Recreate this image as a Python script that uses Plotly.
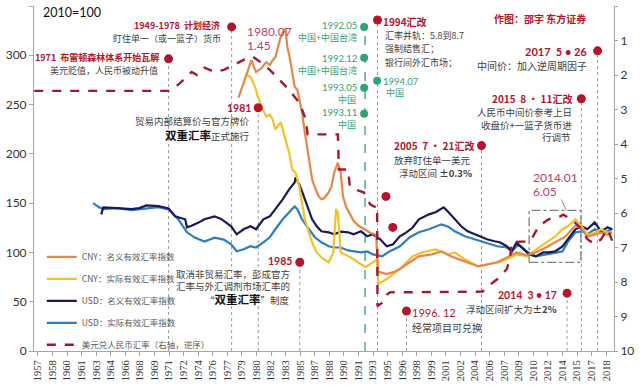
import plotly.graph_objects as go

# ---------------- data ----------------
tick_labels = ["1957","1958","1960","1961","1963","1964","1966","1968","1969","1971",
               "1972","1974","1976","1977","1979","1980","1982","1983","1985","1987",
               "1988","1990","1991","1993","1995","1996","1998","1999","2001","2002",
               "2004","2006","2007","2009","2010","2012","2014","2015","2017","2018"]
tick_vals = [1957 + 19 * k / 12 for k in range(len(tick_labels))]

cny_neer = [(1978.8, 257), (1979.35, 272), (1979.9, 288), (1980.2, 295), (1980.7, 283),
            (1981.3, 287), (1981.8, 293), (1982.2, 290), (1982.5, 295), (1982.8, 298),
            (1983.3, 316), (1983.6, 323), (1983.9, 327), (1984.1, 309), (1984.4, 296),
            (1984.65, 282), (1984.9, 268), (1985.2, 265), (1985.4, 255), (1985.7, 242),
            (1986.0, 222), (1986.45, 194), (1986.8, 174), (1987.1, 166), (1987.5, 157),
            (1987.8, 154), (1988.1, 155), (1988.6, 161), (1988.9, 167), (1989.2, 181),
            (1989.6, 191), (1989.9, 181), (1990.15, 157), (1990.5, 146), (1990.8, 141),
            (1991.3, 132), (1991.85, 127), (1992.4, 124), (1993.1, 120), (1993.75, 118),
            (1993.95, 80), (1994.2, 80), (1994.9, 78), (1995.6, 80), (1996.3, 83),
            (1997.4, 90), (1998.4, 96), (1999.8, 98), (2000.85, 101), (2001.9, 96),
            (2003.4, 91), (2004.8, 86), (2005.5, 87), (2006.9, 90), (2007.95, 95),
            (2009.0, 100), (2010.1, 97), (2011.1, 100), (2012.2, 105), (2013.2, 110),
            (2014.3, 116), (2015.4, 127), (2016.1, 124), (2016.7, 116), (2017.5, 118),
            (2018.2, 120), (2018.9, 118), (2019.4, 120)]

cny_reer = [(1979.7, 280), (1980.1, 278), (1980.6, 268), (1980.9, 258), (1981.3, 248),
            (1981.8, 238), (1982.2, 240), (1982.5, 235), (1982.8, 225), (1983.4, 232),
            (1983.8, 218), (1984.3, 201), (1984.65, 184), (1985.0, 181), (1985.4, 167),
            (1985.7, 149), (1986.0, 134), (1986.45, 120), (1986.8, 110), (1987.3, 100),
            (1987.8, 95), (1988.6, 90), (1989.1, 100), (1989.4, 144), (1989.6, 140),
            (1989.9, 100), (1990.3, 98), (1991.0, 95), (1992.1, 88), (1992.6, 85),
            (1993.4, 90), (1993.9, 93), (1994.0, 68), (1994.9, 73), (1996.3, 83),
            (1997.7, 96), (1998.7, 100), (2000.2, 103), (2001.6, 98), (2002.3, 100),
            (2003.4, 93), (2004.8, 86), (2005.8, 88), (2007.2, 90), (2007.95, 93),
            (2009.0, 98), (2010.1, 96), (2011.1, 103), (2012.2, 110), (2013.2, 116),
            (2014.0, 123.5), (2014.6, 126.5), (2015.4, 133.6), (2016.1, 126.5),
            (2016.7, 118), (2017.5, 120), (2018.2, 123.5), (2018.9, 120), (2019.4, 121)]

usd_neer = [(1963.88, 138.6), (1964.1, 145.7), (1965.6, 145), (1967.2, 144), (1968.0, 145),
            (1968.8, 147.7), (1970.1, 147), (1971.2, 144.7), (1971.9, 136.6), (1973.0, 133.6),
            (1973.2, 125.5), (1973.7, 127), (1974.4, 130), (1975.1, 133.6), (1976.2, 136.6),
            (1976.9, 134), (1978.0, 126.5), (1978.6, 118.4), (1979.35, 123.5), (1980.1, 126.5),
            (1980.7, 123.5), (1981.5, 133.6), (1982.2, 136.6), (1982.8, 143.7), (1983.6, 153.8),
            (1984.3, 163.9), (1984.9, 171), (1985.0, 176), (1985.4, 169), (1985.7, 162),
            (1986.0, 153.8), (1986.45, 141.7), (1986.8, 133.6), (1987.3, 126.5), (1987.8, 121.4),
            (1988.6, 120.4), (1989.2, 118.4), (1989.9, 121), (1990.7, 120.4), (1991.3, 118.4),
            (1992.1, 121.4), (1992.8, 116.4), (1993.4, 118.4), (1994.2, 113.3), (1994.9, 106.3),
            (1995.6, 108.3), (1996.3, 116), (1997.0, 120), (1997.7, 125), (1998.4, 133.6),
            (1999.5, 138.6), (2000.2, 140.7), (2001.1, 145.7), (2001.6, 141), (2002.3, 133.6),
            (2003.0, 126.5), (2003.7, 121.4), (2004.45, 118.4), (2005.1, 115.4), (2005.8, 113.3),
            (2006.6, 111.3), (2007.2, 110.3), (2007.95, 106.3), (2008.5, 101.2), (2009.0, 110),
            (2009.75, 103), (2010.4, 98), (2011.1, 96), (2011.9, 100), (2012.5, 100),
            (2013.2, 101), (2014.0, 106), (2014.6, 113), (2015.4, 123.5), (2016.1, 126.5),
            (2016.7, 123.5), (2017.5, 130.5), (2018.2, 121.4), (2018.9, 125.5), (2019.4, 123.5)]

usd_reer = [(1963.0, 150), (1963.6, 146), (1964.1, 144), (1965.6, 145), (1967.2, 143),
            (1968.8, 145), (1970.1, 146), (1971.2, 143.7), (1972.25, 133.6), (1973.2, 120.4),
            (1974.05, 115), (1975.1, 111), (1976.2, 115), (1977.2, 113), (1978.0, 108.3),
            (1978.6, 101.2), (1979.35, 103.2), (1980.1, 106.3), (1980.7, 105), (1981.5, 110.3),
            (1982.2, 115.4), (1982.8, 123.5), (1983.6, 133.6), (1984.3, 140.7), (1984.9, 146.7),
            (1985.2, 143.7), (1985.7, 133.6), (1986.45, 123.5), (1987.1, 115.4), (1987.8, 110.3),
            (1988.6, 106.3), (1989.2, 105), (1989.9, 105), (1990.7, 102), (1991.3, 101),
            (1992.1, 100), (1992.8, 101), (1993.4, 98), (1994.4, 96), (1995.2, 101),
            (1996.3, 106), (1997.4, 115.4), (1998.4, 120.4), (1999.5, 123.5), (2000.85, 128.5),
            (2001.6, 126), (2002.3, 121.4), (2003.4, 116.4), (2004.45, 113.3), (2005.5, 110.3),
            (2006.15, 108.3), (2006.9, 106.3), (2007.95, 105), (2008.5, 101), (2009.2, 108),
            (2010.1, 101), (2011.1, 96), (2012.2, 98), (2013.2, 100), (2014.0, 101),
            (2014.6, 111), (2015.4, 120.4), (2016.1, 121.4), (2016.7, 118.4), (2017.5, 123.5),
            (2018.2, 120.4), (2018.9, 121.4), (2019.4, 124)]

usdcny = [(1956.6, 2.46), (1971.2, 2.46), (1971.7, 2.37), (1972.25, 2.28), (1973.2, 2.05),
          (1973.7, 1.91), (1974.3, 2.0), (1975.1, 1.79), (1976.2, 1.91), (1977.2, 1.85),
          (1978.3, 1.71), (1979.35, 1.56), (1980.3, 1.46), (1981.15, 1.62), (1982.2, 1.85),
          (1983.3, 2.14), (1984.3, 2.43), (1985.4, 2.80), (1986.0, 3.21), (1986.2, 3.5),
          (1986.3, 3.72), (1989.6, 3.72), (1989.7, 4.74), (1990.7, 4.74), (1990.9, 5.23),
          (1991.5, 5.32), (1992.4, 5.40), (1992.7, 5.52), (1993.1, 5.75), (1993.75, 5.84),
          (1993.86, 5.8), (1993.9, 8.7), (1994.4, 8.6), (1994.9, 8.37), (1995.24, 8.3),
          (2005.3, 8.28), (2005.8, 8.15), (2006.9, 7.92), (2007.95, 7.63), (2008.3, 7.3),
          (2008.5, 6.85), (2009.5, 6.83), (2010.4, 6.83), (2010.8, 6.68), (2011.4, 6.39),
          (2012.5, 6.18), (2013.6, 6.12), (2014.1, 6.05), (2015.05, 6.2), (2016.1, 6.47),
          (2016.7, 6.76), (2017.5, 6.9), (2018.2, 6.76), (2018.9, 6.47), (2019.4, 6.8)]

# policy events: year, marker height (left axis)
event_years = [1971.2, 1978.05, 1980.94, 1985.46, 1993.9, 1997.05, 2005.2, 2014.5, 2016.05, 2017.82]
event_level = [296.4, 328.8, 246.8, 90.0, 335.8, 40.5, 208.4, 58.7, 255.9, 304.5]
extra_dot_years = [1994.82, 1995.56]
extra_dot_level = [156.8, 125.4]
taiwan_years = [1992.45, 1992.45, 1992.45, 1992.45, 1993.86]
taiwan_level = [328.8, 297.4, 267.1, 240.8, 274.1]
green_line_year = 1992.55
box_years = [2010.38, 2016.0]
box_level = [90, 142.6]

# ---------------- styling ----------------
RED = "#B3152D"
DARK = "#404040"
GREEN = "#33A274"
PINK = "#B2456A"
CJK = "Noto Sans CJK SC"
NUM = "Lato"

L, R, T, B, W, H = 25, 20, 6, 35, 640, 387
PW, PH = W - L - R, H - T - B


def pp(x, y):
    return (x - L) / PW, (T + PH - y) / PH


fig = go.Figure()

series = [
    (usd_reer, "USD：实际有效汇率指数", "#2F7DBA", 4, "solid", "y"),
    (usd_neer, "USD：名义有效汇率指数", "#18195A", 3, "solid", "y"),
    (cny_reer, "CNY：实际有效汇率指数", "#F3C22B", 2, "solid", "y"),
    (cny_neer, "CNY：名义有效汇率指数", "#E5874A", 1, "solid", "y"),
    (usdcny, "美元兑人民币汇率（右轴，逆序）", "#A2192E", 5, "dash", "y2"),
]
for data, name, color, rank, dash, yax in series:
    fig.add_trace(go.Scatter(
        x=[p[0] for p in data], y=[p[1] for p in data], name=name, mode="lines",
        line=dict(color=color, width=2.2 if dash == "solid" else 2.4, dash=dash),
        legendrank=rank, legendgroup=name, yaxis=yax))

fig.add_trace(go.Scatter(x=event_years + extra_dot_years, y=event_level + extra_dot_level,
                         mode="markers", marker=dict(color=RED, size=9), showlegend=False))
fig.add_trace(go.Scatter(x=taiwan_years, y=taiwan_level, mode="markers",
                         marker=dict(color=GREEN, size=8), showlegend=False))

shapes = []
for xv, yv in zip(event_years, event_level):
    shapes.append(dict(type="line", xref="x", yref="y", x0=xv, x1=xv, y0=0, y1=yv,
                       line=dict(color="#9A9A9A", width=1, dash="dot"), layer="below"))
shapes.append(dict(type="line", xref="x", yref="y", x0=green_line_year, x1=green_line_year,
                   y0=0, y1=taiwan_level[0], line=dict(color=GREEN, width=1.3, dash="dash"),
                   layer="below"))
shapes.append(dict(type="rect", xref="x", yref="y", x0=box_years[0], x1=box_years[1],
                   y0=box_level[0], y1=box_level[1],
                   line=dict(color="#7F7F7F", width=1.3, dash="dashdot")))
c0 = pp(566, 200)
c1 = pp(571, 211)
shapes.append(dict(type="line", xref="paper", yref="paper", x0=c0[0], y0=c0[1], x1=c1[0], y1=c1[1],
                   line=dict(color="#8A8A8A", width=1)))

BIG = "<span style='font-size:11.5px;color:#111'><b>双重汇率</b></span>"
texts = [
    ("2010=100", 32, 13, "left", 12.5, "#111111", False, NUM),
    ("1971  布雷顿森林体系开始瓦解", 155, 58, "right", 9, RED, True, CJK),
    ("美元贬值，人民币被动升值", 154, 71, "right", 9, DARK, False, CJK),
    ("1949-1978  计划经济", 218, 26, "right", 9, RED, True, CJK),
    ("盯住单一（或一篮子）货币", 219, 38.5, "right", 9, DARK, False, CJK),
    ("1980.07", 241, 32, "left", 12, PINK, False, NUM),
    ("1.45", 241, 46, "left", 12, PINK, False, NUM),
    ("1981", 250, 108, "right", 10.5, RED, True, NUM),
    ("贸易内部结算价与官方牌价", 249, 121, "right", 9.5, DARK, False, CJK),
    (BIG + "正式施行", 249, 135, "right", 9.5, DARK, False, CJK),
    ("1985", 292, 262, "right", 10.5, RED, True, NUM),
    ("取消非贸易汇率，彭成官方", 290, 275, "right", 9.5, DARK, False, CJK),
    ("汇率与外汇调剂市场汇率的", 290, 287, "right", 9.5, DARK, False, CJK),
    ("“" + BIG + "”制度", 290, 300, "right", 9.5, DARK, False, CJK),
    ("1992.05", 358, 26, "right", 9.5, GREEN, False, NUM),
    ("中国+中国台湾", 358, 38, "right", 9, GREEN, False, CJK),
    ("1992.12", 358, 59, "right", 9.5, GREEN, False, NUM),
    ("中国+中国台湾", 358, 71, "right", 9, GREEN, False, CJK),
    ("1993.05", 358, 87.5, "right", 9.5, GREEN, False, NUM),
    ("中国", 357, 99.5, "right", 9, GREEN, False, CJK),
    ("1993.11", 358, 113, "right", 9.5, GREEN, False, NUM),
    ("中国", 357, 125, "right", 9, GREEN, False, CJK),
    ("1994.07", 381, 81.5, "left", 9.5, GREEN, False, NUM),
    ("中国", 384, 93, "left", 9, GREEN, False, CJK),
    ("1994汇改", 381, 21.5, "left", 10, RED, True, CJK),
    ("汇率并轨：5.8到8.7", 383, 36, "left", 9, DARK, False, CJK),
    ("强制结售汇；", 383, 49, "left", 9, DARK, False, CJK),
    ("银行间外汇市场；", 383, 63, "left", 9, DARK, False, CJK),
    ("作图：邵宇 东方证券", 593, 19, "right", 10, RED, True, CJK),
    ("2017  5 • 26", 594, 51.5, "right", 11, RED, True, NUM),
    ("中间价：加入逆周期因子", 594, 66, "right", 10, DARK, False, CJK),
    ("2015  8 • 11汇改", 579, 99, "right", 10, RED, True, CJK),
    ("人民币中间价参考上日", 579, 112.5, "right", 9.5, DARK, False, CJK),
    ("收盘价+一篮子货币进", 579, 125, "right", 9.5, DARK, False, CJK),
    ("行调节", 578, 137.5, "right", 9.5, DARK, False, CJK),
    ("2005  7 • 21汇改", 478, 146, "right", 10, RED, True, CJK),
    ("放弃盯住单一美元", 475, 160, "right", 9.5, DARK, False, CJK),
    ("浮动区间 <b>±0.3%</b>", 476, 173, "right", 9.5, DARK, False, CJK),
    ("2014.01", 535, 178, "left", 12, PINK, False, NUM),
    ("6.05", 535, 192, "left", 12, PINK, False, NUM),
    ("2014  3 • 17", 564, 295.5, "right", 10.5, RED, True, NUM),
    ("浮动区间扩大为<b>±2%</b>", 564, 309.5, "right", 9.5, DARK, False, CJK),
    ("1996. 12", 411, 313.5, "left", 11, RED, False, NUM),
    ("经常项目可兑换", 411, 328, "left", 10, DARK, False, CJK),
]
annotations = []
for txt, x, y, anc, size, color, bold, fam in texts:
    px, py = pp(x, y)
    annotations.append(dict(text=("<b>%s</b>" % txt) if bold else txt, x=px, y=py,
                            xref="paper", yref="paper", xanchor=anc, yanchor="middle",
                            showarrow=False, font=dict(size=size, color=color, family=fam)))

lx, ly = pp(33, 243)
fig.update_layout(
    width=W, height=H, margin=dict(l=L, r=R, t=T, b=B),
    paper_bgcolor="white", plot_bgcolor="white",
    shapes=shapes, annotations=annotations,
    legend=dict(x=lx, y=ly, xanchor="left", yanchor="top", bgcolor="rgba(0,0,0,0)",
                font=dict(size=8.5, color="#595959", family=CJK), tracegroupgap=3,
                itemwidth=30),
    xaxis=dict(range=[1956.576, 2019.6], tickvals=tick_vals, ticktext=tick_labels,
               tickangle=-90, ticks="outside", ticklen=4, tickcolor="#A6A6A6",
               showline=True, linecolor="#A6A6A6", showgrid=False, zeroline=False,
               tickfont=dict(size=10.5, color="#333333", family="Liberation Serif")),
    yaxis=dict(range=[0, 350], tickvals=list(range(0, 351, 50)), ticks="outside", ticklen=4,
               tickcolor="#A6A6A6", showline=True, linecolor="#A6A6A6", showgrid=False,
               zeroline=False, tickfont=dict(size=12, color="#333333", family=NUM)),
    yaxis2=dict(range=[10, 0], overlaying="y", side="right", tickvals=list(range(0, 11)),
                ticks="outside", ticklen=3, tickcolor="#A6A6A6", showline=True,
                linecolor="#A6A6A6", showgrid=False, zeroline=False,
                tickfont=dict(size=12, color="#333333", family=NUM)),
    showlegend=True,
)

fig.write_html("out.html", config={"displayModeBar": False},
               post_script="document.body.style.margin='0px';document.body.style.overflow='hidden';")
